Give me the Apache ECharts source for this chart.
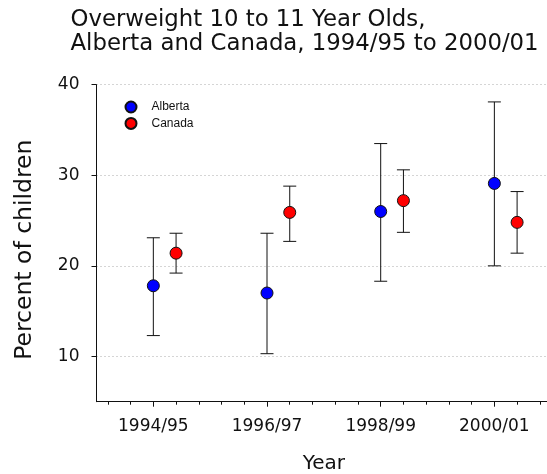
<!DOCTYPE html>
<html>
<head>
<meta charset="utf-8">
<script src="https://cdn.jsdelivr.net/npm/echarts@6/dist/echarts.min.js"></script>
<style>
  html, body { margin: 0; padding: 0; background: #fff; }
  #chart { width: 547px; height: 474px; }
</style>
</head>
<body>
<div id="chart"></div>
<script>
// Survey years on the x axis
const categories = ['1994/95', '1996/97', '1998/99', '2000/01'];

// Percent of 10-11 year olds who are overweight, with 95% confidence limits
const albertaValues = [17.8, 17.0, 26.0, 29.1];
const albertaLow    = [12.3, 10.3, 18.3, 20.0];
const albertaHigh   = [23.1, 23.6, 33.5, 38.1];

const canadaValues  = [21.4, 25.9, 27.2, 24.8];
const canadaLow     = [19.2, 22.7, 23.7, 21.4];
const canadaHigh    = [23.6, 28.8, 30.6, 28.2];

// Y axis tick labels
const yTicks = [10, 20, 30, 40];

// Canada sits just to the right of Alberta in each year
const canadaShift = 0.2;

const majorTicks = categories.map((c, i) => i);
const minorTicks = [];
for (let i = -0.4; i < 3.5; i += 0.2) {
  const v = Math.round(i * 10) / 10;
  if (Math.abs(v - Math.round(v)) > 1e-6) minorTicks.push(v);
}

const font = 'DejaVu Sans, Verdana, sans-serif';

function errorBars(low, high, shift) {
  return low.map((lo, i) => [i + shift, lo, high[i]]);
}

function renderErrorBar(params, api) {
  const x = api.value(0);
  const top = api.coord([x, api.value(2)]);
  const bottom = api.coord([x, api.value(1)]);
  const half = 6.5;
  const style = { stroke: '#111', lineWidth: 1 };
  return {
    type: 'group',
    children: [
      { type: 'line', shape: { x1: top[0], y1: top[1], x2: bottom[0], y2: bottom[1] }, style },
      { type: 'line', shape: { x1: top[0] - half, y1: top[1], x2: top[0] + half, y2: top[1] }, style },
      { type: 'line', shape: { x1: bottom[0] - half, y1: bottom[1], x2: bottom[0] + half, y2: bottom[1] }, style }
    ]
  };
}

const chart = echarts.init(document.getElementById('chart'), null, { renderer: 'canvas' });

chart.setOption({
  animation: false,
  backgroundColor: '#fff',
  title: {
    text: 'Overweight 10 to 11 Year Olds,\nAlberta and Canada, 1994/95 to 2000/01',
    left: 70.5,
    top: 8,
    padding: 0,
    textStyle: {
      fontFamily: font,
      fontSize: 22.8,
      fontWeight: 'normal',
      color: '#111',
      lineHeight: 24
    }
  },
  legend: {
    orient: 'vertical',
    left: 124.5,
    top: 100.5,
    padding: 0,
    itemWidth: 11,
    itemHeight: 11,
    itemGap: 3.4,
    data: ['Alberta', 'Canada'],
    textStyle: {
      fontFamily: 'Liberation Sans, Arial, sans-serif',
      fontSize: 12,
      color: '#111',
      lineHeight: 11,
      padding: [0, 0, 0, 10]
    }
  },
  grid: {
    left: 96.5,
    top: 84.7,
    width: 454.7,
    height: 317,
    outerBoundsMode: 'none'
  },
  xAxis: [
    {
      type: 'value',
      min: -0.5,
      max: 3.5,
      name: 'Year',
      nameLocation: 'middle',
      nameGap: 52,
      nameTextStyle: { fontFamily: font, fontSize: 20, color: '#111' },
      axisLine: { show: true, onZero: false, lineStyle: { color: '#111', width: 1 } },
      axisTick: { show: true, customValues: majorTicks, length: 5, inside: false, lineStyle: { color: '#111' } },
      axisLabel: {
        customValues: majorTicks,
        formatter: v => categories[Math.round(v)],
        fontFamily: font,
        fontSize: 17,
        color: '#111',
        margin: 16
      },
      splitLine: { show: false }
    },
    {
      type: 'value',
      position: 'bottom',
      min: -0.5,
      max: 3.5,
      axisLine: { show: false, onZero: false },
      axisTick: { show: true, customValues: minorTicks, length: 3, lineStyle: { color: '#111' } },
      axisLabel: { show: false },
      splitLine: { show: false }
    }
  ],
  yAxis: {
    type: 'value',
    min: 5,
    max: 40,
    name: 'Percent of children',
    nameLocation: 'middle',
    nameGap: 60,
    nameTextStyle: { fontFamily: font, fontSize: 23.5, color: '#111', padding: [0, 13, 0, 0] },
    axisLine: { show: true, onZero: false, lineStyle: { color: '#111', width: 1 } },
    axisTick: { show: true, customValues: yTicks, length: 5, lineStyle: { color: '#111' } },
    axisLabel: {
      customValues: yTicks,
      fontFamily: font,
      fontSize: 17,
      color: '#111',
      margin: 17
    },
    splitLine: {
      show: true,
      lineStyle: { color: '#aaa', type: [1, 3], width: 1 }
    }
  },
  series: [
    {
      name: 'Alberta limits',
      type: 'custom',
      xAxisIndex: 0,
      renderItem: renderErrorBar,
      data: errorBars(albertaLow, albertaHigh, 0),
      z: 2
    },
    {
      name: 'Canada limits',
      type: 'custom',
      xAxisIndex: 0,
      renderItem: renderErrorBar,
      data: errorBars(canadaLow, canadaHigh, canadaShift),
      z: 2
    },
    {
      name: 'Alberta',
      type: 'scatter',
      xAxisIndex: 0,
      symbol: 'circle',
      symbolSize: 12,
      itemStyle: { color: '#0000ff', borderColor: '#111', borderWidth: 1, opacity: 1 },
      data: albertaValues.map((v, i) => [i, v]),
      z: 5
    },
    {
      name: 'Canada',
      type: 'scatter',
      xAxisIndex: 0,
      symbol: 'circle',
      symbolSize: 12,
      itemStyle: { color: '#ff0000', borderColor: '#111', borderWidth: 1, opacity: 1 },
      data: canadaValues.map((v, i) => [i + canadaShift, v]),
      z: 5
    }
  ]
});
</script>
</body>
</html>
